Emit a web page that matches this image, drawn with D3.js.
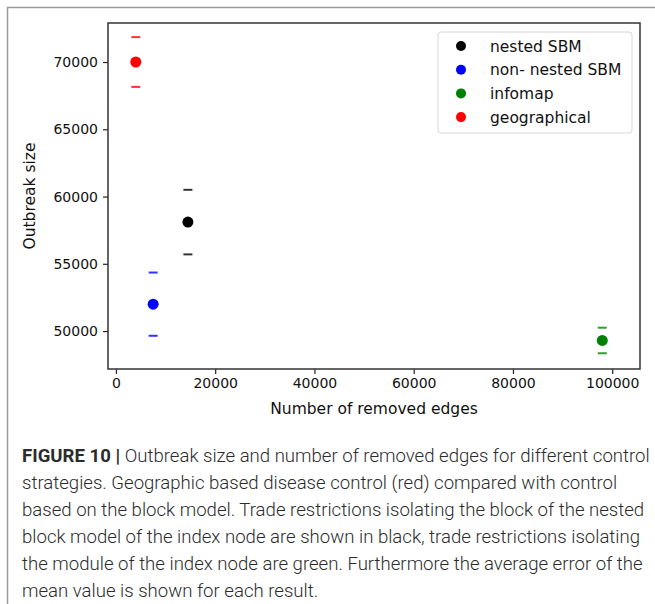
<!DOCTYPE html>
<html>
<head>
<meta charset="utf-8">
<script src="https://cdn.jsdelivr.net/npm/d3@7"></script>
<style>
    html, body { margin: 0; padding: 0; background: #fff; }
    svg { display: block; }
</style>
</head>
<body>
<div id="figure"></div>
<script>
/*global d3*/

// Values
var strategies = ["nested SBM", "non- nested SBM", "infomap", "geographical"];
var removedEdges = [14500, 7500, 98000, 4000];
var outbreakSize = [58100, 52000, 49300, 70000];
var outbreakError = [2400, 2350, 950, 1850];
var strategyColors = ["#000000", "#0000ff", "#008000", "#ff0000"];

var xTicks = [0, 20000, 40000, 60000, 80000, 100000];
var yTicks = [50000, 55000, 60000, 65000, 70000];

var captionLead = "FIGURE 10 |";
var captionLines = [
    " Outbreak size and number of removed edges for different control",
    "strategies. Geographic based disease control (red) compared with control",
    "based on the block model. Trade restrictions isolating the block of the nested",
    "block model of the index node are shown in black, trade restrictions isolating",
    "the module of the index node are green. Furthermore the average error of the",
    "mean value is shown for each result."
];

(function () {
    "use strict";

    var width = 655,
        height = 604,
        plot = {left: 108, right: 640, top: 23, bottom: 369},
        axisFont = "DejaVu Sans, sans-serif",
        i;

    var svg = d3.select("#figure").append("svg")
        .attr("width", width)
        .attr("height", height);

    // outer frame of the figure panel (only top and left are visible)
    svg.append("path")
        .attr("d", "M7.5," + height + "V7.5H" + width)
        .attr("fill", "none")
        .attr("stroke", "#9a9a9a")
        .attr("stroke-width", 1.5);

    var x = d3.scaleLinear().domain([-1600, 105600]).range([plot.left, plot.right]);
    var y = d3.scaleLinear().domain([47180, 72900]).range([plot.bottom, plot.top]);
    var color = d3.scaleOrdinal().domain(strategies).range(strategyColors);

    var points = strategies.map(function (name, idx) {
        return {name: name, x: removedEdges[idx], y: outbreakSize[idx], err: outbreakError[idx]};
    });

    // axes
    var xAxis = svg.append("g")
        .attr("transform", "translate(0," + plot.bottom + ")")
        .call(d3.axisBottom(x).tickValues(xTicks).tickFormat(d3.format("d")).tickSizeInner(5).tickSizeOuter(0).tickPadding(4));
    var yAxis = svg.append("g")
        .attr("transform", "translate(" + plot.left + ",0)")
        .call(d3.axisLeft(y).tickValues(yTicks).tickFormat(d3.format("d")).tickSizeInner(5).tickSizeOuter(0).tickPadding(5));

    [xAxis, yAxis].forEach(function (g) {
        g.select(".domain").remove();
        g.selectAll(".tick line").attr("stroke", "#222").attr("stroke-width", 1.2);
        g.selectAll(".tick text")
            .attr("fill", "#111")
            .style("font-family", axisFont)
            .style("font-size", "14px");
    });

    // plot frame
    svg.append("rect")
        .attr("x", plot.left)
        .attr("y", plot.top)
        .attr("width", plot.right - plot.left)
        .attr("height", plot.bottom - plot.top)
        .attr("fill", "none")
        .attr("stroke", "#333")
        .attr("stroke-width", 1.5);

    // axis titles
    svg.append("text")
        .attr("x", (plot.left + plot.right) / 2)
        .attr("y", 414)
        .attr("text-anchor", "middle")
        .attr("fill", "#111")
        .style("font-family", axisFont)
        .style("font-size", "15.5px")
        .text("Number of removed edges");

    svg.append("text")
        .attr("transform", "translate(35," + ((plot.top + plot.bottom) / 2) + ") rotate(-90)")
        .attr("text-anchor", "middle")
        .attr("fill", "#111")
        .style("font-family", axisFont)
        .style("font-size", "15.5px")
        .text("Outbreak size");

    // error caps (no vertical bar, only the caps)
    var marks = svg.append("g");
    points.forEach(function (p) {
        [p.y + p.err, p.y - p.err].forEach(function (v) {
            marks.append("line")
                .attr("x1", x(p.x) - 4.5)
                .attr("x2", x(p.x) + 4.5)
                .attr("y1", y(v))
                .attr("y2", y(v))
                .attr("stroke", color(p.name))
                .attr("stroke-opacity", 0.8)
                .attr("stroke-width", 2);
        });
    });

    marks.selectAll("circle.point")
        .data(points)
        .enter().append("circle")
        .attr("class", "point")
        .attr("cx", function (d) { return x(d.x); })
        .attr("cy", function (d) { return y(d.y); })
        .attr("r", 5.5)
        .attr("fill", function (d) { return color(d.name); });

    // legend
    var legend = svg.append("g").attr("transform", "translate(438,32)");
    legend.append("rect")
        .attr("width", 194)
        .attr("height", 101)
        .attr("rx", 3)
        .attr("fill", "#fff")
        .attr("fill-opacity", 0.8)
        .attr("stroke", "#d6d6d6")
        .attr("stroke-width", 1);

    for (i = 0; i < strategies.length; i += 1) {
        legend.append("circle")
            .attr("cx", 23)
            .attr("cy", 14 + i * 23.7)
            .attr("r", 5)
            .attr("fill", color(strategies[i]));
        legend.append("text")
            .attr("x", 52)
            .attr("y", 19.5 + i * 23.7)
            .attr("fill", "#111")
            .style("font-family", axisFont)
            .style("font-size", "15.5px")
            .text(strategies[i]);
    }

    // caption below the chart
    var caption = svg.append("g")
        .attr("fill", "#2b2b2b")
        .style("font-family", "Roboto, Liberation Sans, Arial, sans-serif")
        .style("font-weight", 300);

    var captionFont = 16.5;
    for (i = 0; i < captionLines.length; i += 1) {
        var line = caption.append("text")
            .attr("x", 22)
            .attr("y", 462 + i * 27)
            .style("font-size", captionFont + "px");
        if (i === 0) {
            line.append("tspan").style("font-weight", "bold").text(captionLead);
        }
        line.append("tspan").text(captionLines[i]);
    }

    // squeeze the caption so the first line reaches the right edge like the original
    var first = caption.select("text").node();
    var scale = 628 / first.getComputedTextLength();
    caption.selectAll("text").style("font-size", (captionFont * scale) + "px");
}());
</script>
</body>
</html>
